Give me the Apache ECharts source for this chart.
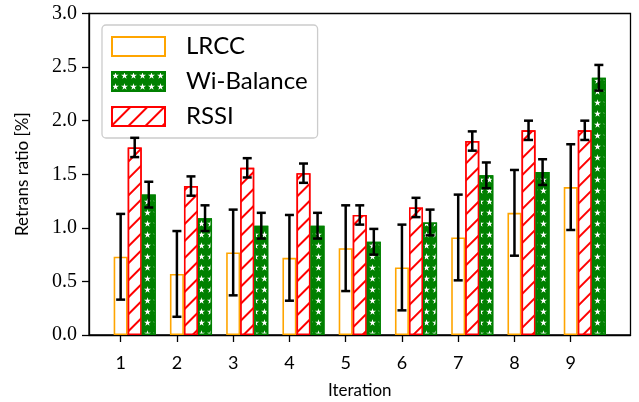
<!DOCTYPE html>
<html><head><meta charset="utf-8">
<script src="https://cdn.jsdelivr.net/npm/echarts@6/dist/echarts.min.js"></script>
<style>html,body{margin:0;padding:0;background:#fff}#c{width:639px;height:402px}</style>
</head><body><div id="c"></div>
<script>
const iterations = [1, 2, 3, 4, 5, 6, 7, 8, 9];
const lrcc    = [0.73, 0.57, 0.77, 0.72, 0.81, 0.63, 0.91, 1.14, 1.38];
const lrccErr = [0.40, 0.40, 0.40, 0.40, 0.40, 0.40, 0.40, 0.40, 0.40];
const rssi    = [1.75, 1.39, 1.56, 1.51, 1.12, 1.19, 1.81, 1.91, 1.91];
const rssiErr = [0.09, 0.09, 0.09, 0.09, 0.09, 0.09, 0.09, 0.09, 0.09];
const wib     = [1.31, 1.09, 1.02, 1.02, 0.87, 1.05, 1.49, 1.52, 2.40];
const wibErr  = [0.12, 0.12, 0.12, 0.12, 0.12, 0.12, 0.12, 0.12, 0.12];
const yTicks  = [0, 0.5, 1.0, 1.5, 2.0, 2.5, 3.0];
const barOffset = 0.25; // bar width in iteration units

const SANS = 'Lato, "Open Sans", sans-serif';
const SERIF = '"Liberation Serif", "DejaVu Serif", serif';

function pts(vals, k) { return vals.map((v, i) => [iterations[i] + k * barOffset, v]); }
function errPts(vals, errs, k) { return vals.map((v, i) => [iterations[i] + k * barOffset, v - errs[i], v + errs[i]]); }

function errItem(params, api) {
  const x = api.value(0), lo = api.value(1), hi = api.value(2);
  const a = api.coord([x, hi]), b = api.coord([x, lo]);
  const cw = 4.5;
  const st = { stroke: '#000', lineWidth: 2.5 };
  return { type: 'group', children: [
    { type: 'line', shape: { x1: a[0], y1: a[1], x2: b[0], y2: b[1] }, style: st },
    { type: 'line', shape: { x1: a[0] - cw, y1: a[1], x2: a[0] + cw, y2: a[1] }, style: st },
    { type: 'line', shape: { x1: b[0] - cw, y1: b[1], x2: b[0] + cw, y2: b[1] }, style: st }
  ]};
}

const starPath = 'path://M50,0 L61,35 L98,35 L68,57 L79,91 L50,70 L21,91 L32,57 L2,35 L39,35 Z';

const chart = echarts.init(document.getElementById('c'), null, { renderer: 'canvas' });
const xMin = iterations[0] - 0.5 * barOffset - 0.4375;
const xMax = iterations[iterations.length - 1] + 2.5 * barOffset + 0.4375;

chart.setOption({
  animation: false,
  backgroundColor: '#fff',
  grid: { left: 89, right: 8.5, top: 13.5, bottom: 67, show: true, borderColor: '#000', borderWidth: 1.3,
          backgroundColor: 'transparent', containLabel: false, outerBoundsMode: 'none' },
  legend: {
    data: ['LRCC', 'Wi-Balance', 'RSSI'],
    orient: 'vertical', left: 102, top: 25,
    padding: [9, 10, 9, 9],
    itemWidth: 53, itemHeight: 19, itemGap: 10,
    backgroundColor: 'rgba(255,255,255,0.8)', borderColor: '#cccccc', borderWidth: 1.3, borderRadius: 4,
    textStyle: { fontFamily: SANS, fontSize: 24, color: '#000', padding: [0, 0, 0, 16], lineHeight: 25 },
    icon: 'rect'
  },
  xAxis: {
    type: 'value', min: xMin, max: xMax,
    name: 'Iteration', nameLocation: 'middle', nameGap: 47,
    nameTextStyle: { fontFamily: SANS, fontSize: 17, color: '#000' },
    axisLine: { show: true, lineStyle: { color: '#000', width: 1.3 } },
    axisTick: { show: true, length: 7, lineStyle: { color: '#000', width: 1.3 }, customValues: iterations },
    axisLabel: { fontFamily: SANS, fontSize: 18, color: '#000', margin: 19, customValues: iterations },
    splitLine: { show: false }
  },
  yAxis: {
    type: 'value', min: 0, max: 3, interval: 0.5,
    name: 'Retrans ratio [%]', nameLocation: 'middle', nameGap: 58,
    nameTextStyle: { fontFamily: SANS, fontSize: 17, color: '#000' },
    axisLine: { show: true, lineStyle: { color: '#000', width: 1.3 } },
    axisTick: { show: true, length: 7, lineStyle: { color: '#000', width: 1.3 } },
    axisLabel: { fontFamily: SERIF, fontSize: 20, color: '#000', margin: 12, formatter: v => v.toFixed(1) },
    splitLine: { show: false }
  },
  series: [
    { name: 'LRCC', type: 'bar', barWidth: 14, barGap: '-100%', data: pts(lrcc, 0),
      itemStyle: { color: '#ffffff', borderColor: '#ffa500', borderWidth: 1.6 } },
    { name: 'RSSI', type: 'bar', barWidth: 14, barGap: '-100%', data: pts(rssi, 1),
      itemStyle: { color: '#ffffff', borderColor: '#ff0000', borderWidth: 1.6,
        decal: { symbol: 'rect', symbolSize: 1, color: '#ff0000', backgroundColor: '#ffffff',
                 dashArrayX: [1, 0], dashArrayY: [2, 10], rotation: -Math.PI / 4 } } },
    { name: 'Wi-Balance', type: 'bar', barWidth: 14, barGap: '-100%', data: pts(wib, 2),
      itemStyle: { color: '#008000', borderColor: '#008000', borderWidth: 1.6,
        decal: { symbol: starPath, symbolSize: 1, color: '#ffffff', backgroundColor: '#008000',
                 dashArrayX: [7, 2], dashArrayY: [7, 4], rotation: 0 } } },
    { name: 'LRCC-err', type: 'custom', renderItem: errItem, data: errPts(lrcc, lrccErr, 0), encode: { x: 0, y: [1, 2] }, z: 5 },
    { name: 'RSSI-err', type: 'custom', renderItem: errItem, data: errPts(rssi, rssiErr, 1), encode: { x: 0, y: [1, 2] }, z: 5 },
    { name: 'WiB-err', type: 'custom', renderItem: errItem, data: errPts(wib, wibErr, 2), encode: { x: 0, y: [1, 2] }, z: 5 }
  ]
});
</script></body></html>
